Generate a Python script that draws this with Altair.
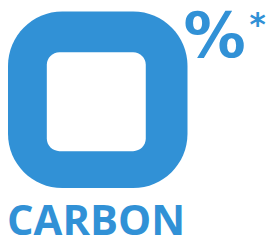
import altair as alt
import pandas as pd

BLUE = "#3191d6"

# logo geometry (page pixel units)
shape_part = ["outer", "hole"]
shape_x0 = [8, 48]
shape_x1 = [193, 150]
shape_y0 = [8, 50]
shape_y1 = [190, 152]

labels = ["%", "*", "CARBON"]
label_x = [189, 257, 7]
label_y = [55, 32, 238]

W, H = 269, 235
xs = alt.Scale(domain=[8, 8 + W], nice=False, zero=False)
ys = alt.Scale(domain=[8, 8 + H], nice=False, zero=False, reverse=True)

shapes = pd.DataFrame({"part": shape_part, "x0": shape_x0, "x1": shape_x1,
                       "y0": shape_y0, "y1": shape_y1})

outer = alt.Chart(shapes[shapes.part == "outer"]).mark_rect(
    color=BLUE, cornerRadius=56).encode(
    x=alt.X("x0:Q", scale=xs, axis=None), x2="x1:Q",
    y=alt.Y("y0:Q", scale=ys, axis=None), y2="y1:Q")

hole = alt.Chart(shapes[shapes.part == "hole"]).mark_rect(
    color="white", cornerRadius=13).encode(
    x=alt.X("x0:Q", scale=xs, axis=None), x2="x1:Q",
    y=alt.Y("y0:Q", scale=ys, axis=None), y2="y1:Q")

t = pd.DataFrame({"label": labels, "x": label_x, "y": label_y})

pct = alt.Chart(t[t.label == "%"]).mark_text(
    font="DejaVu Sans", fontWeight="bold", fontSize=64, color=BLUE,
    align="left", baseline="alphabetic").encode(
    x=alt.X("x:Q", scale=xs, axis=None), y=alt.Y("y:Q", scale=ys, axis=None),
    text="label:N")

star = alt.Chart(t[t.label == "*"]).mark_text(
    font="DejaVu Sans", fontWeight="bold", fontSize=32, color=BLUE,
    align="left", baseline="alphabetic").encode(
    x=alt.X("x:Q", scale=xs, axis=None), y=alt.Y("y:Q", scale=ys, axis=None),
    text="label:N")

word = alt.Chart(t[t.label == "CARBON"]).mark_text(
    font="Open Sans", fontWeight="bold", fontSize=43, color=BLUE,
    align="left", baseline="alphabetic").encode(
    x=alt.X("x:Q", scale=xs, axis=None), y=alt.Y("y:Q", scale=ys, axis=None),
    text="label:N")

chart = alt.layer(outer, hole, pct, star, word).properties(
    width=W, height=H, padding=0, autosize="none", background="white"
).configure_view(stroke=None)

chart.save("out.html", embed_options={"renderer": "svg", "actions": False})
